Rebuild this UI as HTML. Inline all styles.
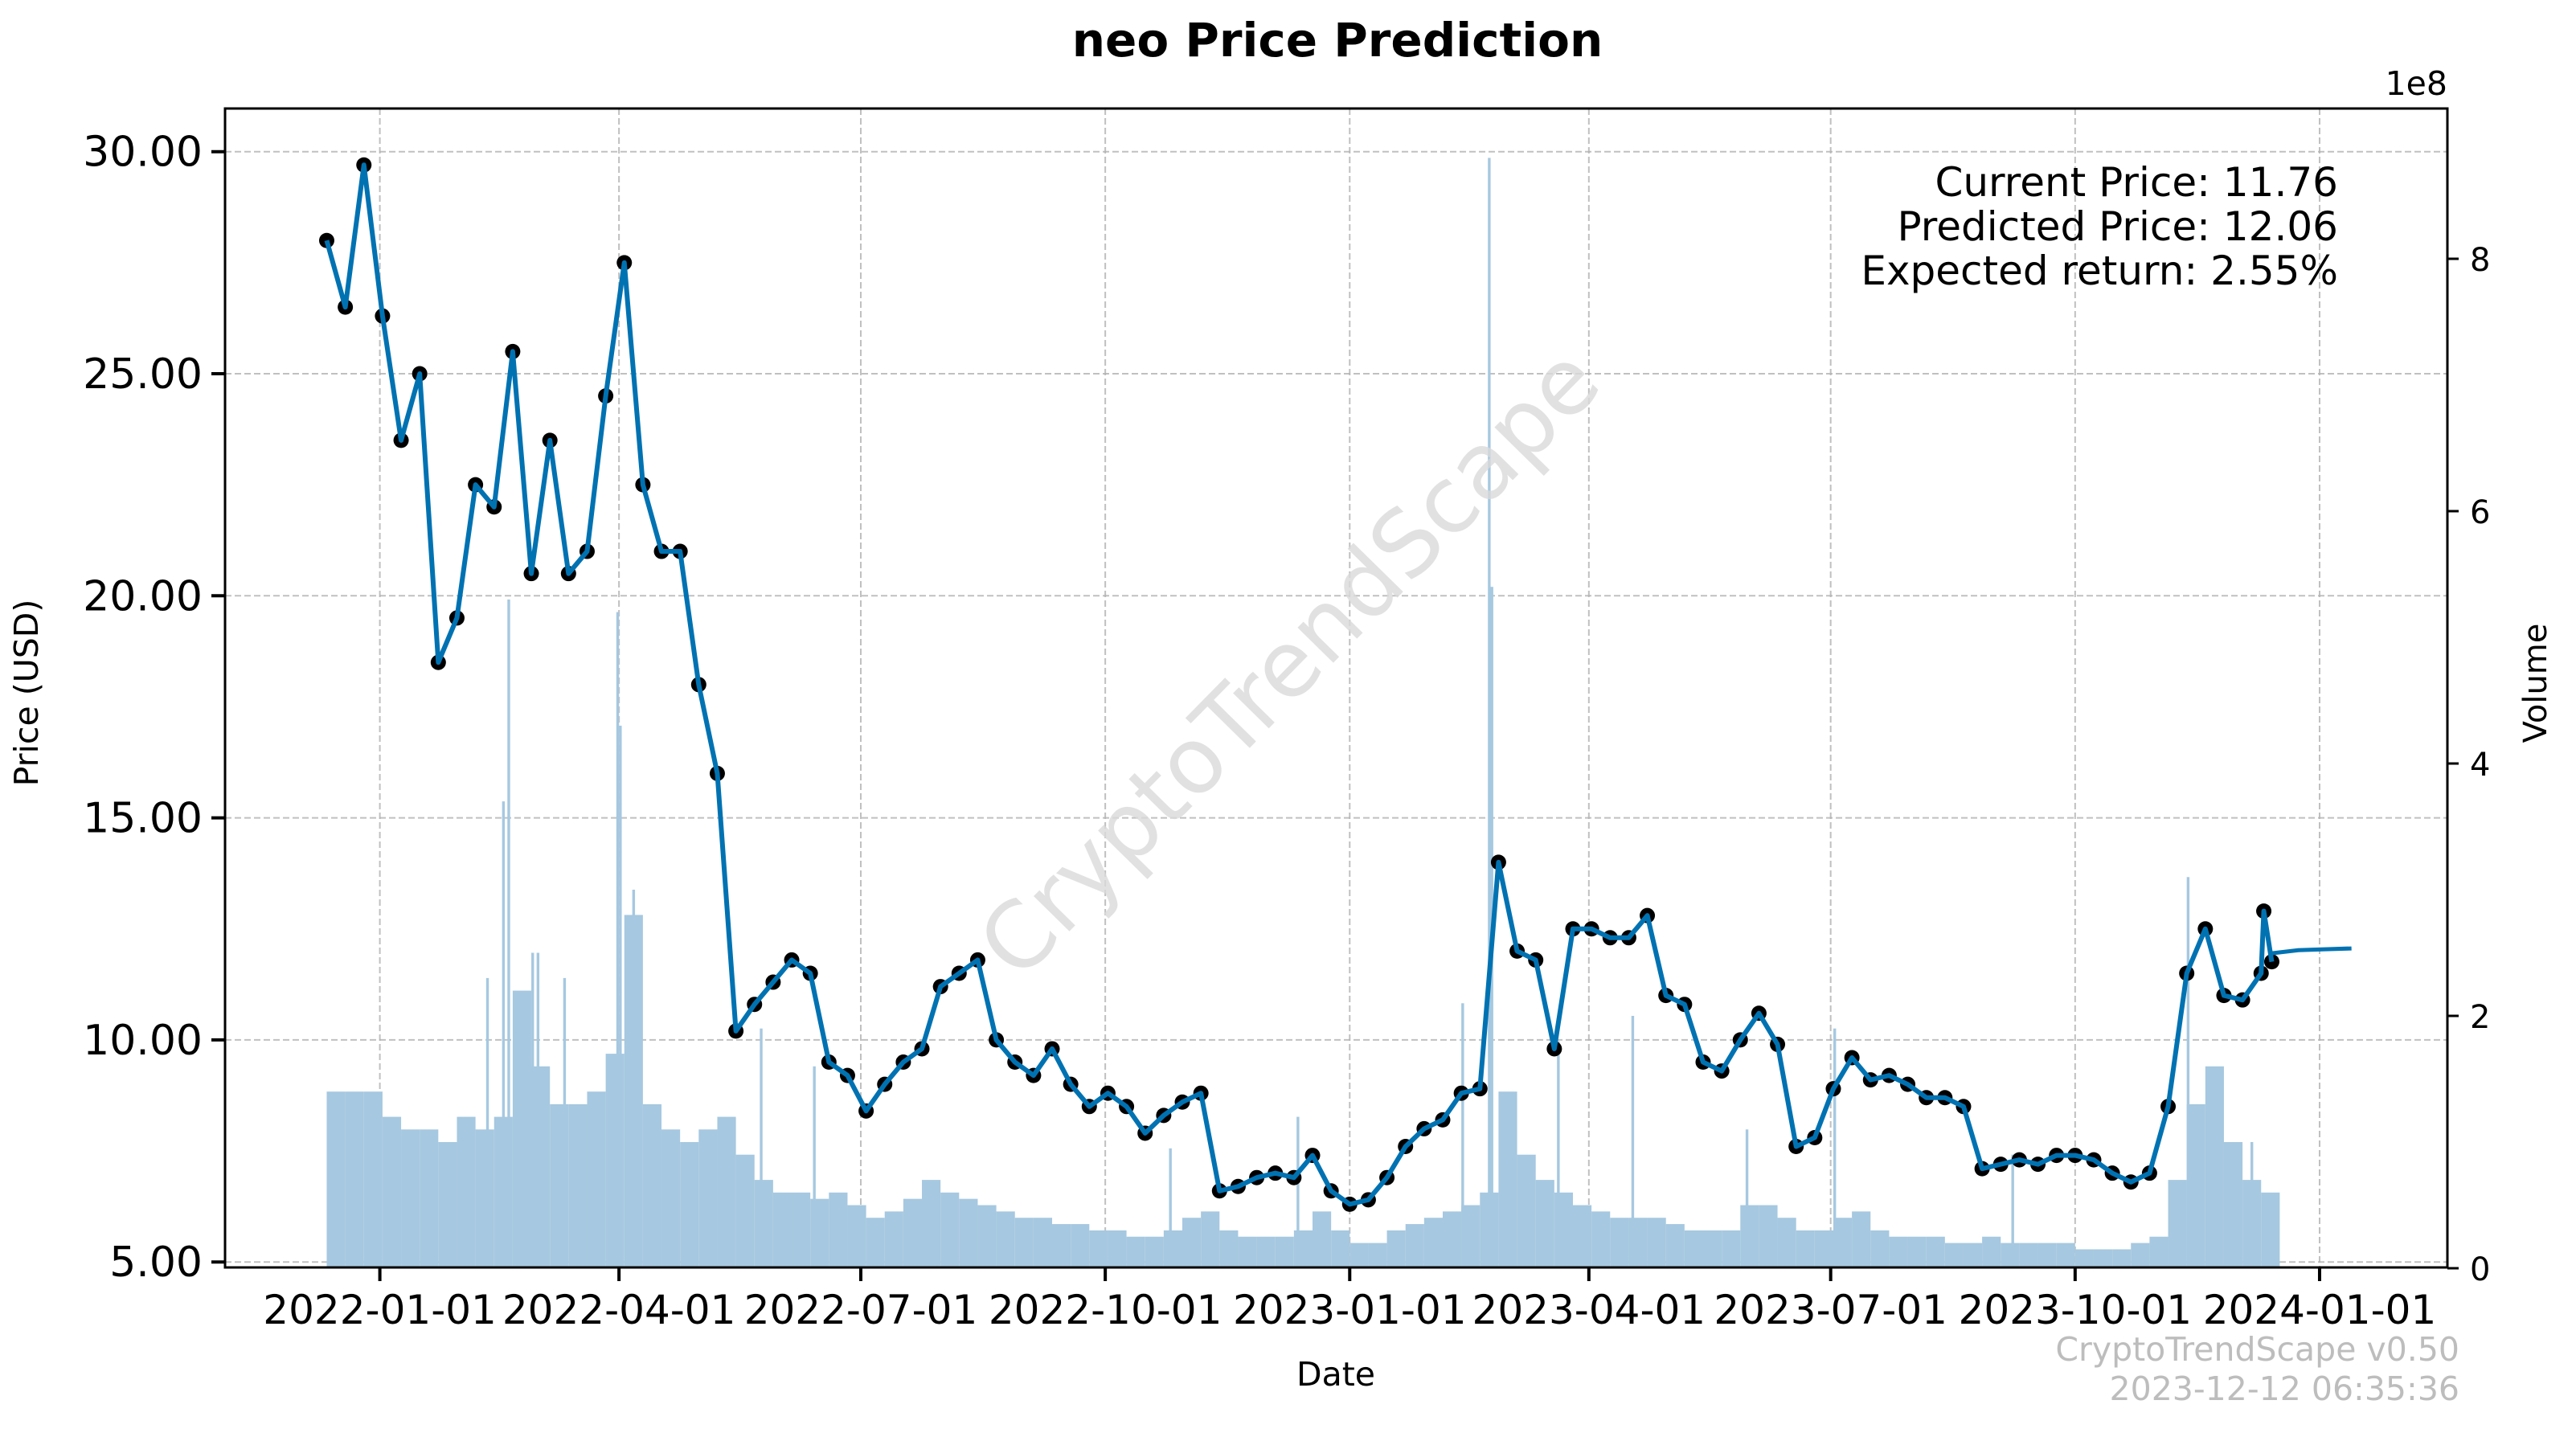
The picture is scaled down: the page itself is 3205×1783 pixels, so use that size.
<!DOCTYPE html>
<html><head><meta charset="utf-8"><style>
html,body{margin:0;padding:0;background:#fff}
svg{display:block;font-family:"DejaVu Sans","Liberation Sans",sans-serif}
</style></head><body>
<svg id="chart" width="3205" height="1783" viewBox="0 0 3205 1783" xmlns="http://www.w3.org/2000/svg">
<rect width="3205" height="1783" fill="#fff"/>
<text x="1664" y="70" text-anchor="middle" font-size="58" font-weight="bold">neo Price Prediction</text>
<g id="grid"></g>
<g id="vol"></g>
<text x="1632" y="852" text-anchor="middle" font-size="114" fill="#d9d9d9" fill-opacity="0.8" transform="rotate(-45.5 1632 852)">CryptoTrendScape</text>
<g id="price"></g>
<g id="axes"></g>
<text x="47" y="862" text-anchor="middle" font-size="41" transform="rotate(-90 47 862)">Price (USD)</text>
<text x="3168" y="850" text-anchor="middle" font-size="40" transform="rotate(-90 3168 850)">Volume</text>
<text x="1662" y="1724" text-anchor="middle" font-size="41">Date</text>
<text x="3045" y="118" text-anchor="end" font-size="41">1e8</text>
<g font-size="50" text-anchor="end">
<text x="2909" y="244">Current Price: 11.76</text>
<text x="2909" y="299">Predicted Price: 12.06</text>
<text x="2909" y="354">Expected return: 2.55%</text>
</g>
<g font-size="41" text-anchor="end" fill="#bdbdbd">
<text x="3060" y="1693">CryptoTrendScape v0.50</text>
<text x="3060" y="1742">2023-12-12 06:35:36</text>
</g>
</svg>
<script>
// ---- data ----
const startDay = -20; // days relative to 2022-01-01, weekly samples
const weeklyPrices = [28.0,26.5,29.7,26.3,23.5,25.0,18.5,19.5,22.5,22.0,25.5,20.5,23.5,20.5,21.0,24.5,27.5,22.5,21.0,21.0,18.0,16.0,10.2,10.8,11.3,11.8,11.5,9.5,9.2,8.4,9.0,9.5,9.8,11.2,11.5,11.8,10.0,9.5,9.2,9.8,9.0,8.5,8.8,8.5,7.9,8.3,8.6,8.8,6.6,6.7,6.9,7.0,6.9,7.4,6.6,6.3,6.4,6.9,7.6,8.0,8.2,8.8,8.9,14.0,12.0,11.8,9.8,12.5,12.5,12.3,12.3,12.8,11.0,10.8,9.5,9.3,10.0,10.6,9.9,7.6,7.8,8.9,9.6,9.1,9.2,9.0,8.7,8.7,8.5,7.1,7.2,7.3,7.2,7.4,7.4,7.3,7.0,6.8,7.0,8.5,11.5,12.5,11.0,10.9,11.5];
const tailDays = [709,712];
const tailPrices = [12.9,11.76];
const predDays = [712,722,732,742];
const predPrices = [11.95,12.02,12.04,12.06];
const weeklyVolume = [1.4,1.4,1.4,1.2,1.1,1.1,1.0,1.2,1.1,1.2,2.2,1.6,1.3,1.3,1.4,1.7,2.8,1.3,1.1,1.0,1.1,1.2,0.9,0.7,0.6,0.6,0.55,0.6,0.5,0.4,0.45,0.55,0.7,0.6,0.55,0.5,0.45,0.4,0.4,0.35,0.35,0.3,0.3,0.25,0.25,0.3,0.4,0.45,0.3,0.25,0.25,0.25,0.3,0.45,0.3,0.2,0.2,0.3,0.35,0.4,0.45,0.5,0.6,1.4,0.9,0.7,0.6,0.5,0.45,0.4,0.4,0.4,0.35,0.3,0.3,0.3,0.5,0.5,0.4,0.3,0.3,0.4,0.45,0.3,0.25,0.25,0.25,0.2,0.2,0.25,0.2,0.2,0.2,0.2,0.15,0.15,0.15,0.2,0.25,0.7,1.3,1.6,1.0,0.7,0.6];
const spikeDays = [40,46,48,57,59,69,89,90,95,143,163,297,345,407,417,418,443,471,514,547,614,680,704];
const spikeVolume = [2.3,3.7,5.3,2.5,2.5,2.3,5.2,4.3,3.0,1.9,1.6,0.95,1.2,2.1,8.8,5.4,1.8,2.0,1.1,1.9,0.9,3.1,1.0];
const xTickDays = [0,90,181,273,365,455,546,638,730];
const xTickLabels = ["2022-01-01","2022-04-01","2022-07-01","2022-10-01","2023-01-01","2023-04-01","2023-07-01","2023-10-01","2024-01-01"];
const priceTicks = [5,10,15,20,25,30];
const volTicks = [0,2,4,6,8];

// ---- scales ----
const L=280,R=3045,T=135,B=1577;
const x = d => 472.6 + d*3.306;
const yP = p => 188.7 + (30-p)*55.26;
const yV = v => 1578 - v*157;
const NS="http://www.w3.org/2000/svg";
function mk(tag, attrs, parent){const e=document.createElementNS(NS,tag);for(const k in attrs)e.setAttribute(k,attrs[k]);parent.appendChild(e);return e;}
const grid=document.getElementById('grid'),vol=document.getElementById('vol'),price=document.getElementById('price'),axes=document.getElementById('axes');

// grid
xTickDays.forEach(d=>{const g=mk('line',{x1:x(d),x2:x(d),y1:T,y2:B,stroke:'#b0b0b0','stroke-width':2,'stroke-dasharray':'8,4','stroke-opacity':0.8},grid);

});
priceTicks.forEach(p=>{const g=mk('line',{x1:L,x2:R,y1:yP(p),y2:yP(p),stroke:'#b0b0b0','stroke-width':2,'stroke-dasharray':'8,4','stroke-opacity':0.8},grid);

});

// volume bars
weeklyVolume.forEach((v,i)=>{const d=startDay+7*i;const b=mk('rect',{x:x(d),y:yV(v),width:7*3.306,height:yV(0)-yV(v),fill:'#a6c8e0'},vol);

});
spikeDays.forEach((d,i)=>{const v=spikeVolume[i];const b=mk('rect',{x:x(d),y:yV(v),width:3.4,height:yV(0)-yV(v),fill:'#a6c8e0'},vol);

});

// price
const pts=[];weeklyPrices.forEach((p,i)=>pts.push([x(startDay+7*i),yP(p)]));
tailDays.forEach((d,i)=>pts.push([x(d),yP(tailPrices[i])]));
pts.forEach(q=>{const c=mk('circle',{cx:q[0],cy:q[1],r:9.5,fill:'#000'},price);

});
const pl=mk('polyline',{points:pts.map(q=>q.join(',')).join(' '),fill:'none',stroke:'#0072b2','stroke-width':6,'stroke-linejoin':'round'},price);


const pp=predDays.map((d,i)=>[x(d),yP(predPrices[i])]);
const pr=mk('polyline',{points:pp.map(q=>q.join(',')).join(' '),fill:'none',stroke:'#0072b2','stroke-width':5},price);



// axes
const fr=mk('rect',{x:L,y:T,width:R-L,height:B-T,fill:'none',stroke:'#000','stroke-width':3},axes);


xTickDays.forEach((d,i)=>{mk('line',{x1:x(d),x2:x(d),y1:B,y2:B+17,stroke:'#000','stroke-width':4},axes);
const t=mk('text',{x:x(d),y:B+70,'text-anchor':'middle','font-size':50},axes);t.textContent=xTickLabels[i];

});
priceTicks.forEach(p=>{mk('line',{x1:L-17,x2:L,y1:yP(p),y2:yP(p),stroke:'#000','stroke-width':4},axes);
const t=mk('text',{x:L-28,y:yP(p)+18,'text-anchor':'end','font-size':52},axes);t.textContent=p.toFixed(2);

});
volTicks.forEach(v=>{mk('line',{x1:R,x2:R+14,y1:yV(v),y2:yV(v),stroke:'#000','stroke-width':3},axes);
const t=mk('text',{x:R+28,y:yV(v)+15,'font-size':40},axes);t.textContent=String(v);

});
</script>
</body></html>
